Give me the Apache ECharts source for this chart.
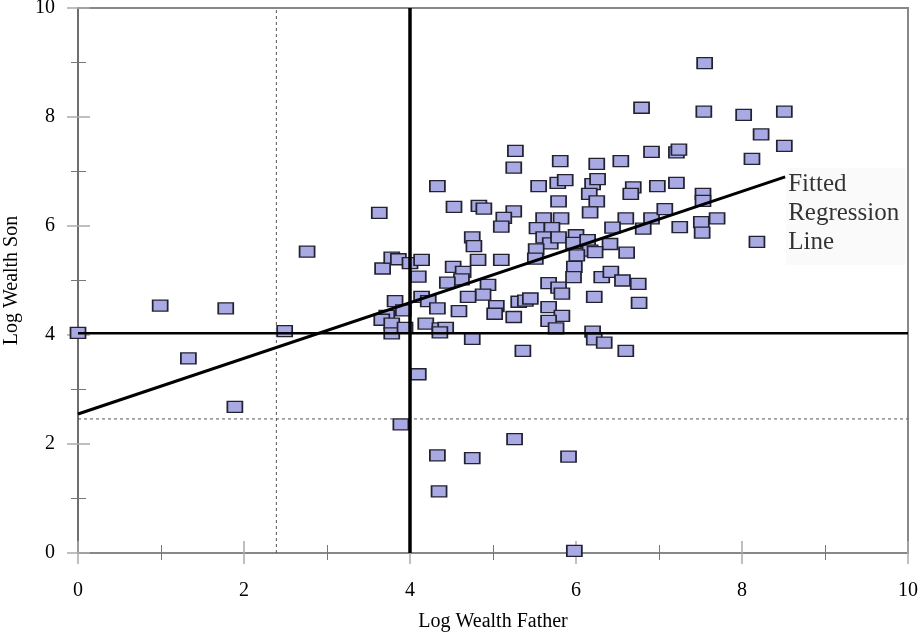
<!DOCTYPE html>
<html><head><meta charset="utf-8">
<script src="https://cdn.jsdelivr.net/npm/echarts@6/dist/echarts.min.js"></script>
<style>html,body{margin:0;padding:0;background:#fff}#c{width:919px;height:635px}</style>
</head><body><div id="c"></div>
<script>
// [log wealth father, log wealth son]
const fatherSon = [
[0.00,4.04],[0.99,4.54],[1.78,4.49],[2.49,4.07],[1.33,3.57],[1.89,2.68],[2.76,5.53],
[3.63,6.24],[3.67,5.22],[3.78,5.42],[3.86,5.39],[4.00,5.32],[4.14,5.38],[4.10,5.07],
[3.82,4.62],[3.92,4.45],[3.72,4.35],[3.66,4.28],[3.78,4.21],[3.78,4.03],[3.94,4.13],
[4.14,4.70],[4.22,4.62],[4.33,4.49],[4.19,4.21],[4.36,4.12],[4.43,4.13],[4.36,4.05],
[4.10,3.28],[3.89,2.36],[4.33,1.79],[4.35,1.13],[4.75,1.74],[5.26,2.09],[5.91,1.77],[5.98,0.04],
[4.33,6.73],[4.53,6.35],[4.83,6.37],[4.89,6.32],[5.25,6.27],[5.13,6.15],[5.10,5.99],
[4.75,5.79],[4.77,5.63],[4.82,5.38],[5.10,5.38],[4.52,5.25],[4.64,5.16],[4.62,5.02],[4.45,4.96],
[4.94,4.92],[4.88,4.74],[4.70,4.70],[4.59,4.44],[5.04,4.53],[5.02,4.39],[5.25,4.33],
[5.31,4.61],[5.39,4.63],[5.45,4.67],[4.75,3.93],[5.36,3.71],
[5.27,7.38],[5.25,7.07],[5.81,7.19],[6.25,7.14],[6.54,7.19],[6.91,7.36],[6.79,8.17],
[5.55,6.73],[5.78,6.79],[5.87,6.84],[6.20,6.77],[6.26,6.86],[6.69,6.71],[6.66,6.59],[6.98,6.73],[7.21,6.79],
[6.16,6.59],[6.25,6.45],[5.79,6.45],[6.17,6.25],
[5.61,6.14],[5.82,6.14],[5.53,5.96],[5.71,5.96],[6.60,6.14],[6.44,5.97],[6.91,6.14],[7.07,6.31],[6.81,5.95],
[5.61,5.79],[5.69,5.68],[5.79,5.79],[6.00,5.83],[5.97,5.69],[6.14,5.74],[6.41,5.67],
[5.52,5.57],[5.51,5.40],[6.17,5.55],[6.23,5.52],[6.61,5.51],[6.01,5.46],
[5.98,5.25],[5.97,5.06],[6.31,5.06],[6.42,5.16],[6.56,5.00],[6.75,4.94],
[5.67,4.95],[5.79,4.87],[5.83,4.76],[6.22,4.70],[6.76,4.59],
[5.67,4.51],[5.83,4.35],[5.67,4.26],[5.76,4.12],[6.20,4.06],[6.22,3.92],[6.34,3.86],[6.60,3.71],
[7.55,8.99],[7.54,8.10],[8.02,8.04],[8.51,8.10],[8.23,7.68],[8.51,7.47],[8.12,7.23],
[7.21,7.35],[7.24,7.40],
[7.53,6.59],[7.53,6.46],[7.25,5.98],[7.51,6.07],[7.52,5.88],[7.70,6.14],[8.18,5.71]
];
const regressionLine = [[0, 2.55], [8.52, 6.90]];
const regressionLabel = ['Fitted', 'Regression', 'Line'];
const meanFather = 4.0;
const meanSon = 4.03;
const dashFather = 2.39;
const dashSon = 2.46;
const axisMin = 0, axisMax = 10, axisStep = 2;
const xTitle = 'Log Wealth Father';
const yTitle = 'Log Wealth Son';

const FONT = '"Liberation Serif", "DejaVu Serif", serif';
const chart = echarts.init(document.getElementById('c'), null, {renderer: 'canvas'});

function mkAxis(isX, outer) {
  const a = {
    type: 'value', min: axisMin, max: axisMax, interval: axisStep,
    position: isX ? 'bottom' : 'left',
    splitLine: {show: false},
    axisLine: {show: outer, onZero: false, lineStyle: {color: isX ? '#888' : '#666', width: isX ? 2 : 1.5}},
    axisTick: {show: true, inside: !outer, length: outer ? 11 : 12, lineStyle: {color: '#aaa', width: 1.5}},
    minorTick: {show: true, splitNumber: 2, length: outer ? 7 : 8, lineStyle: {color: '#777', width: 1}},
    axisLabel: {show: outer, color: '#000', fontFamily: FONT, fontSize: 20, margin: isX ? 28 : 23},
  };
  if (outer) {
    a.name = isX ? xTitle : yTitle;
    a.nameLocation = 'middle';
    a.nameGap = isX ? 59 : 56;
    a.nameTextStyle = {color: '#000', fontFamily: FONT, fontSize: 20};
  }
  return a;
}

const labelEnd = regressionLine[regressionLine.length - 1];

chart.setOption({
  animation: false,
  backgroundColor: '#fff',
  grid: {left: 78, top: 8, right: 11, bottom: 82, containLabel: false, outerBoundsMode: 'none',
         show: true, borderColor: '#888', borderWidth: 2, backgroundColor: 'transparent'},
  xAxis: [mkAxis(true, true), mkAxis(true, false)],
  yAxis: [mkAxis(false, true), mkAxis(false, false)],
  series: [
    {
      type: 'scatter', z: 2,
      data: fatherSon,
      symbol: 'rect', symbolSize: [15, 11],
      itemStyle: {color: '#a9a9e4', borderColor: '#222230', borderWidth: 1.5, opacity: 1}
    },
    {
      type: 'line', z: 3, silent: true, showSymbol: false, symbol: 'none',
      data: [[dashFather, axisMin], [dashFather, axisMax]],
      lineStyle: {color: '#555', width: 1, type: [3, 3]}
    },
    {
      type: 'line', z: 3, silent: true, showSymbol: false, symbol: 'none',
      data: [[axisMin, dashSon], [axisMax, dashSon]],
      lineStyle: {color: '#555', width: 1, type: [3, 3]}
    },
    {
      type: 'line', z: 4, silent: true, showSymbol: false, symbol: 'none',
      data: [[meanFather, axisMin], [meanFather, axisMax]],
      lineStyle: {color: '#000', width: 3.5}
    },
    {
      type: 'line', z: 4, silent: true, showSymbol: false, symbol: 'none',
      data: [[axisMin, meanSon], [axisMax, meanSon]],
      lineStyle: {color: '#000', width: 2.5}
    },
    {
      type: 'line', z: 5, silent: true, showSymbol: false, symbol: 'none',
      data: regressionLine,
      lineStyle: {color: '#000', width: 3}
    },
    {
      type: 'scatter', z: 5, silent: true,
      data: [labelEnd],
      symbol: 'rect', symbolSize: 2,
      itemStyle: {color: 'rgba(0,0,0,0)', borderWidth: 0},
      label: {
        show: true, position: [2, -8], align: 'left', verticalAlign: 'top',
        formatter: regressionLabel.join('\n'),
        fontFamily: FONT, fontSize: 25, lineHeight: 29, color: '#000',
        backgroundColor: '#f9f9f9', padding: [2, 6, 8, 2]
      }
    }
  ]
});
</script></body></html>
